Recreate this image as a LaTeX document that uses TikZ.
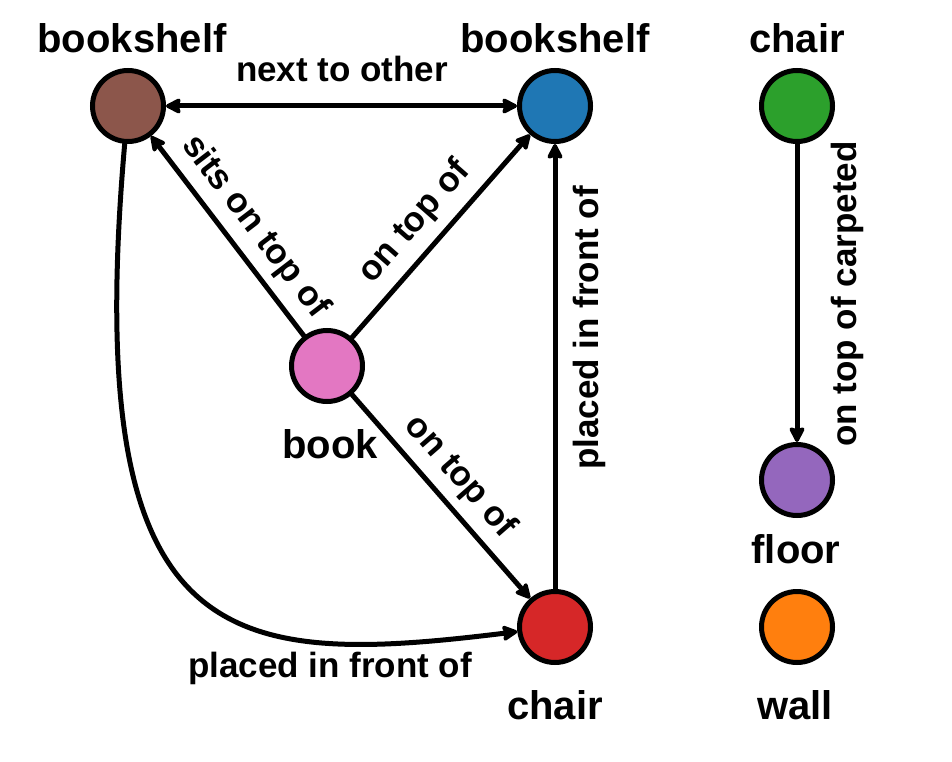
\documentclass[tikz,border=0pt]{standalone}
\usepackage{fontspec}
\setmainfont{Liberation Sans}
\usetikzlibrary{arrows.meta}

\definecolor{cBrown}{HTML}{8C564B}
\definecolor{cBlue}{HTML}{1F77B4}
\definecolor{cGreen}{HTML}{2CA02C}
\definecolor{cPink}{HTML}{E377C2}
\definecolor{cRed}{HTML}{D62728}
\definecolor{cPurple}{HTML}{9467BD}
\definecolor{cOrange}{HTML}{FF7F0E}

\begin{document}
\begin{tikzpicture}[x=1pt,y=1pt,
  >={Stealth[length=18pt,width=18pt,inset=3pt,round]},
  obj/.style={circle, draw=black, line width=5pt, minimum size=71pt, inner sep=0pt},
  tag/.style={font=\fontsize{40}{48}\selectfont\bfseries, anchor=base, inner sep=0pt},
  rlab/.style={font=\fontsize{35}{42}\selectfont\bfseries, inner sep=0pt},
  link/.style={line width=5pt, line cap=round, line join=round, ->}]
  \useasboundingbox (0,0) rectangle (952,-762);
  % objects
  \node[obj, fill=cBrown] (shelfA) at (128,-106) {};
  \node[obj, fill=cBlue] (shelfB) at (555,-106) {};
  \node[obj, fill=cGreen] (chairA) at (797,-106) {};
  \node[obj, fill=cPink] (book) at (327,-366) {};
  \node[obj, fill=cRed] (chairB) at (555,-627) {};
  \node[obj, fill=cPurple] (floor) at (797,-480) {};
  \node[obj, fill=cOrange] (wall) at (797,-627) {};
  % object names
  \node[tag] (tShelfA) at (132,-53) {bookshelf};
  \node[tag] (tShelfB) at (555,-53) {bookshelf};
  \node[tag] (tChairA) at (797,-53) {chair};
  \node[tag] (tBook) at (330,-458) {book};
  \node[tag] (tFloor) at (796,-563) {floor};
  \node[tag] (tChairB) at (555,-719) {chair};
  \node[tag] (tWall) at (795,-719) {wall};
  % relations
  \draw[link, <->] (shelfA) -- (shelfB);
  \draw[link] (book) -- (shelfA);
  \draw[link] (book) -- (shelfB);
  \draw[link] (book) -- (chairB);
  \draw[link] (chairB) -- (shelfB);
  \draw[link] (shelfA) to[out=-95, in=187, out looseness=2.1, in looseness=1.2] (chairB);
  \draw[link] (chairA) -- (floor);
  % relation labels
  \node[rlab, anchor=base] (rNext) at (342,-82) {next to other};
  \node[rlab, rotate=-52.6] (rSits) at (255,-227) {sits on top of};
  \node[rlab, rotate=48.7] (rOnB) at (415,-222) {on top of};
  \node[rlab, rotate=-48.9] (rOnC) at (460,-477) {on top of};
  \node[rlab, anchor=base, rotate=90] (rFrontB) at (598,-328) {placed in front of};
  \node[rlab, anchor=base] (rFrontC) at (330,-677) {placed in front of};
  \node[rlab, anchor=base, rotate=90] (rCarpet) at (856,-294) {on top of carpeted};
\end{tikzpicture}
\end{document}
